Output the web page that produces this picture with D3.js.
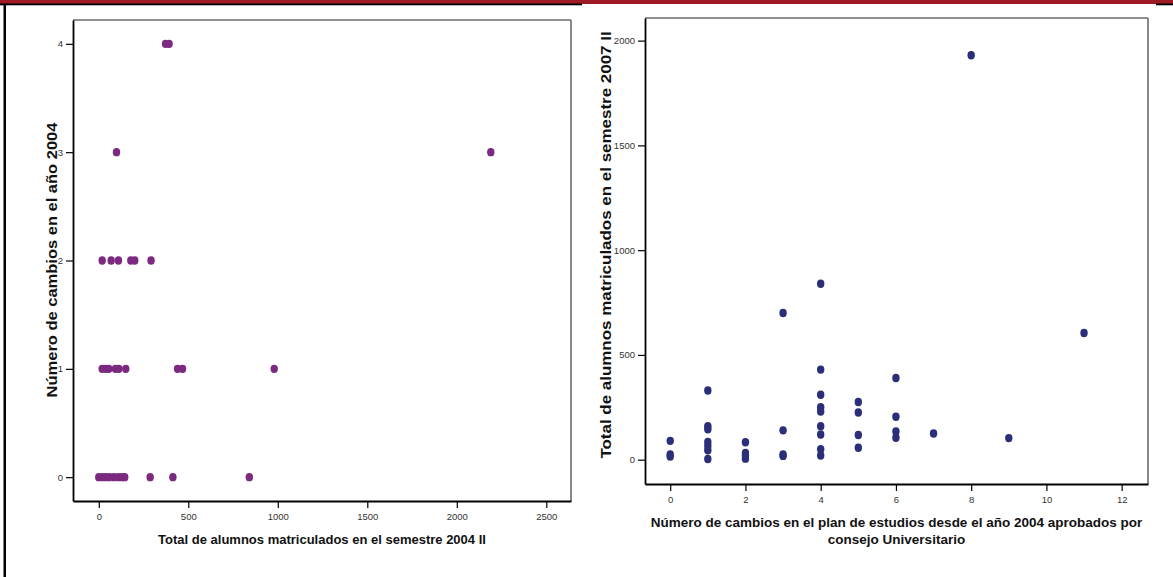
<!DOCTYPE html>
<html>
<head>
<meta charset="utf-8">
<script src="https://cdn.jsdelivr.net/npm/d3@7/dist/d3.min.js"></script>
<style>
  html, body { margin: 0; padding: 0; background: #fff; }
  svg { display: block; }
  .tick text { font-family: "Liberation Sans", Arial, sans-serif; font-size: 9.5px; fill: #333; }
  .title { font-family: "Liberation Sans", Arial, sans-serif; font-weight: bold; fill: #111; }
</style>
</head>
<body>
<svg id="chart" width="1173" height="577"></svg>
<script>
// Left panel: enrolment 2004 II (x) vs. number of changes in 2004 (y)
const leftEnrol2004 = [373, 393, 99, 2190, 19, 69, 110, 179, 201, 292,
  19, 39, 56, 93, 112, 151, 440, 468, 980,
  0, 20, 40, 60, 85, 110, 130, 145, 287, 414, 841];
const leftChanges = [4, 4, 3, 3, 2, 2, 2, 2, 2, 2,
  1, 1, 1, 1, 1, 1, 1, 1, 1,
  0, 0, 0, 0, 0, 0, 0, 0, 0, 0, 0];
const leftXTicks = [0, 500, 1000, 1500, 2000, 2500];
const leftYTicks = [0, 1, 2, 3, 4];

// Right panel: changes approved since 2004 (x) vs. enrolment 2007 II (y)
const rightChanges = [0, 0, 0,
  1, 1, 1, 1, 1, 1, 1,
  2, 2, 2, 2,
  3, 3, 3, 3,
  4, 4, 4, 4, 4, 4, 4, 4, 4,
  5, 5, 5, 5,
  6, 6, 6, 6,
  7, 8, 9, 11];
const rightEnrol2007 = [90, 25, 15,
  330, 160, 145, 85, 65, 45, 3,
  83, 32, 20, 5,
  700, 140, 25, 18,
  840, 430, 310, 250, 230, 160, 120, 50, 20,
  275, 225, 118, 57,
  390, 205, 135, 105,
  125, 1930, 103, 605];
const rightXTicks = [0, 2, 4, 6, 8, 10, 12];
const rightYTicks = [0, 500, 1000, 1500, 2000];

const svg = d3.select("#chart");

// page decoration: red band at the top and black rules
svg.append("rect").attr("x", 0).attr("y", 0).attr("width", 1173).attr("height", 4).attr("fill", "#9e1a24");
svg.append("rect").attr("x", 0).attr("y", 3.5).attr("width", 582).attr("height", 1.8).attr("fill", "#000");
svg.append("rect").attr("x", 1156).attr("y", 3.5).attr("width", 17).attr("height", 1.8).attr("fill", "#000");
svg.append("rect").attr("x", 3.5).attr("y", 4).attr("width", 2.5).attr("height", 573).attr("fill", "#000");

function panel(cfg) {
  const g = svg.append("g");
  const x = d3.scaleLinear().domain(cfg.xDomain).range([cfg.left, cfg.right]);
  const y = d3.scaleLinear().domain(cfg.yDomain).range([cfg.bottom, cfg.top]);
  const fmt = d3.format("d");

  // frame: grey top/right edges
  g.append("line").attr("x1", cfg.left).attr("x2", cfg.right).attr("y1", cfg.top).attr("y2", cfg.top)
    .attr("stroke", "#6b6b6b").attr("stroke-width", 1.6);
  g.append("line").attr("x1", cfg.right).attr("x2", cfg.right).attr("y1", cfg.top).attr("y2", cfg.bottom)
    .attr("stroke", "#6b6b6b").attr("stroke-width", 1.6);

  const xAxis = g.append("g").attr("transform", `translate(0,${cfg.bottom})`)
    .call(d3.axisBottom(x).tickValues(cfg.xTicks).tickFormat(fmt).tickSize(7).tickPadding(5).tickSizeOuter(0));
  const yAxis = g.append("g").attr("transform", `translate(${cfg.left},0)`)
    .call(d3.axisLeft(y).tickValues(cfg.yTicks).tickFormat(fmt).tickSize(7).tickPadding(3).tickSizeOuter(0));
  [xAxis, yAxis].forEach(a => {
    a.select(".domain").attr("stroke", "#000").attr("stroke-width", 1.8);
    a.selectAll(".tick line").attr("stroke", "#000").attr("stroke-width", 1.2);
  });

  g.append("g").selectAll("ellipse").data(cfg.xs.map((v, i) => [v, cfg.ys[i]])).join("ellipse")
    .attr("cx", d => x(d[0])).attr("cy", d => y(d[1]))
    .attr("rx", 3.7).attr("ry", 4.2)
    .attr("fill", cfg.color);

  // axis titles
  const xt = g.append("text").attr("class", "title").attr("text-anchor", "middle")
    .attr("font-size", cfg.xTitleSize);
  cfg.xTitle.forEach((line, i) => {
    xt.append("tspan").attr("x", (cfg.left + cfg.right) / 2).attr("y", cfg.xTitleY + i * 17).text(line);
  });
  // vertical title, stretched along its length
  g.append("text").attr("class", "title").attr("text-anchor", "middle")
    .attr("font-size", 15)
    .attr("transform", `translate(${cfg.yTitleX},${cfg.yTitleCenter}) rotate(-90) scale(${cfg.yTitleStretch},1)`)
    .text(cfg.yTitle);
}

panel({
  left: 73, right: 571, top: 20, bottom: 501,
  xDomain: [-144, 2638], yDomain: [-0.22, 4.22],
  xTicks: leftXTicks, yTicks: leftYTicks,
  xs: leftEnrol2004, ys: leftChanges, color: "#7b2a80",
  xTitle: ["Total de alumnos matriculados en el semestre 2004 II"], xTitleY: 544, xTitleSize: 13,
  yTitle: "Número de cambios en el año 2004", yTitleX: 57, yTitleCenter: 260, yTitleStretch: 1.1
});

panel({
  left: 645, right: 1148, top: 18, bottom: 484,
  xDomain: [-0.67, 12.7], yDomain: [-116, 2108],
  xTicks: rightXTicks, yTicks: rightYTicks,
  xs: rightChanges, ys: rightEnrol2007, color: "#2b2e78",
  xTitle: ["Número de cambios en el plan de estudios desde el año 2004 aprobados por", "consejo Universitario"],
  xTitleY: 527, xTitleSize: 13.5,
  yTitle: "Total de alumnos matriculados en el semestre 2007 II", yTitleX: 611, yTitleCenter: 245, yTitleStretch: 1.13
});
</script>
</body>
</html>
